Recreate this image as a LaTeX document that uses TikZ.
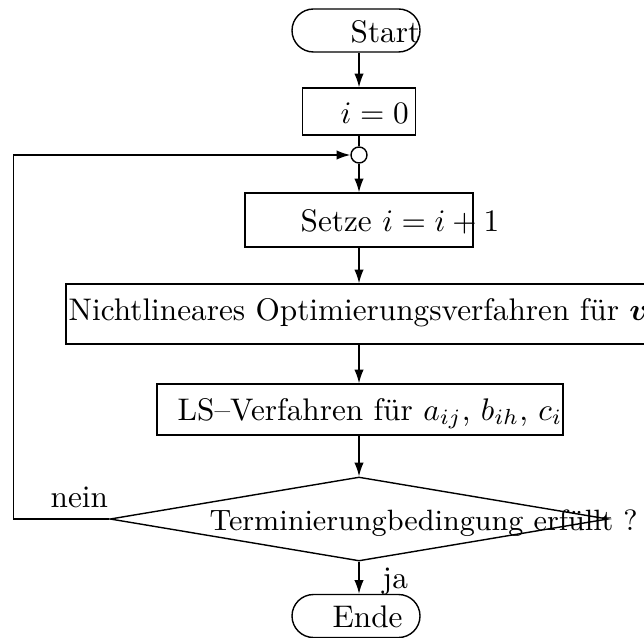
\documentclass[tikz,border=0pt]{standalone}
\usepackage{amsmath}
\usepackage{fontspec}
\usetikzlibrary{shapes.misc,shapes.geometric,arrows.meta}

\newlength\gridpx
\setlength\gridpx{0.32pt}

\tikzset{
  flow/.style={-{Latex[length=4.4pt,width=3pt]}},
  term/.style={draw, rounded rectangle, inner sep=0pt,
    minimum width=128\gridpx, minimum height=43\gridpx},
  stepbox/.style={draw, rectangle, inner sep=0pt},
  label text/.style={anchor=base west, inner sep=0pt},
}

\begin{document}
\begin{tikzpicture}[x=\gridpx, y=-\gridpx, line width=0.45pt]
	\useasboundingbox (0,0) rectangle (644,637);

	% boxes
	\node [term] (start) at (356,30.5) {};
	\node [stepbox, minimum width=113\gridpx, minimum height=47\gridpx] (init) at (359,111.5) {};
	\node [draw, circle, inner sep=0pt, minimum size=16\gridpx] (join) at (359,155) {};
	\node [stepbox, minimum width=228\gridpx, minimum height=54\gridpx] (inc) at (359,220) {};
	\node [stepbox, minimum width=600\gridpx, minimum height=60\gridpx] (opt) at (366,314) {};
	\node [stepbox, minimum width=406\gridpx, minimum height=51\gridpx] (ls) at (360,409.5) {};
	\node [draw, diamond, inner sep=0pt, minimum width=498\gridpx, minimum height=84\gridpx] (test) at (359,519) {};
	\node [term] (ende) at (356,616) {};

	% texts
	\node [label text] (tstart) at (350,43) {Start};
	\node [label text] (tinit) at (340,124) {$i=0$};
	\node [label text] (tinc) at (300,232) {Setze $i=i+1$};
	\node [label text] (topt) at (68,320) {Nichtlineares Optimierungsverfahren für $\boldsymbol{v}$};
	\node [label text] (tls) at (177,420) {LS--Verfahren für $a_{ij}$, $b_{ih}$, $c_i$};
	\node [label text, font=\fontsize{9.4pt}{11pt}\selectfont] (ttest) at (209,530) {Terminierungbedingung erfüllt ?};
	\node [label text] (tnein) at (50,507) {nein};
	\node [label text] (tja) at (382,588) {ja};
	\node [label text] (tende) at (332,627) {Ende};

	% connectors
	\draw [flow] (join |- start.south) -- (init);
	\draw (init) -- (join);
	\draw [flow] (join) -- (inc);
	\draw [flow] (inc) -- (inc |- opt.north);
	\draw [flow] (inc |- opt.south) -- (inc |- ls.north);
	\draw [flow] (inc |- ls.south) -- (test);
	\draw [flow] (test) -- (join |- ende.north);
	\draw [flow] (test.west) -- ++(-96,0) |- (join);
\end{tikzpicture}
\end{document}
